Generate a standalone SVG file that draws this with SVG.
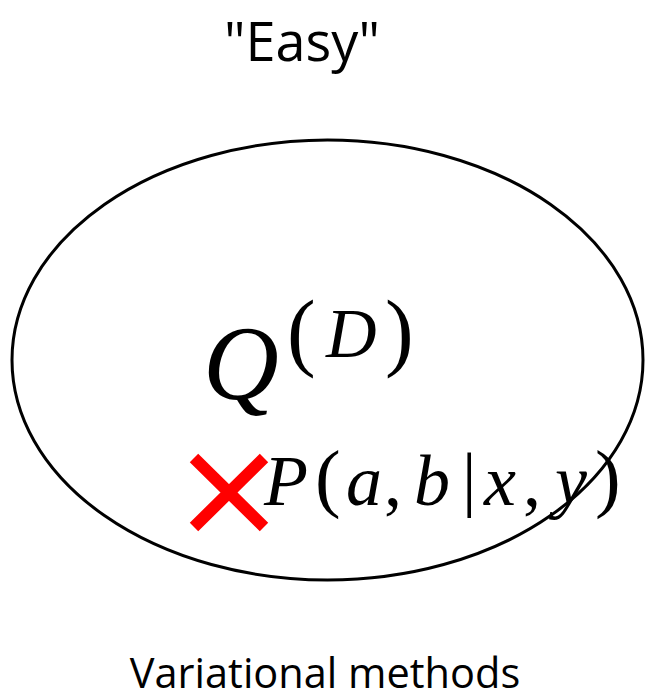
<svg xmlns="http://www.w3.org/2000/svg" width="653" height="699" viewBox="0 0 653 699">
<style>
.lbl{font-family:"Open Sans","Liberation Sans",sans-serif;fill:#000}
.math{font-family:"Liberation Serif","DejaVu Serif",serif;font-style:italic;fill:#000}
.mr{font-family:"Liberation Serif","DejaVu Serif",serif;fill:#000}
</style>
<rect width="653" height="699" fill="#fff"/>
<g id="set">
<ellipse cx="327.5" cy="360" rx="315.5" ry="220" fill="none" stroke="#000" stroke-width="3"/>
</g>
<g id="title"><text class="lbl" x="302" y="61" font-size="54" text-anchor="middle">"Easy"</text></g>
<g id="QD">
<text class="math" x="203" y="399" font-size="105">Q</text>
<text class="mr" x="287" y="360" font-size="86">(</text>
<text class="math" x="326" y="357" font-size="70">D</text>
<text class="mr" x="385" y="360" font-size="86">)</text>
</g>
<g id="P">
<path d="M194,458 L264,527 M264,458 L194,527" stroke="#ff0000" stroke-width="12" fill="none"/>
<text class="math" x="264" y="505" font-size="72">P</text>
<text class="mr" x="315" y="503" font-size="77">(</text>
<text class="math" x="346" y="505" font-size="72">a</text>
<text class="mr" x="384" y="505" font-size="72">,</text>
<text class="math" x="414" y="505" font-size="72">b</text>
<text class="mr" x="462" y="503" font-size="72">|</text>
<text class="math" x="484" y="505" font-size="72">x</text>
<text class="mr" x="523" y="505" font-size="72">,</text>
<text class="math" x="555" y="505" font-size="72">y</text>
<text class="mr" x="595" y="503" font-size="77">)</text>
</g>
<g id="caption"><text class="lbl" x="325" y="688" font-size="41.5" text-anchor="middle">Variational methods</text></g>
</svg>
